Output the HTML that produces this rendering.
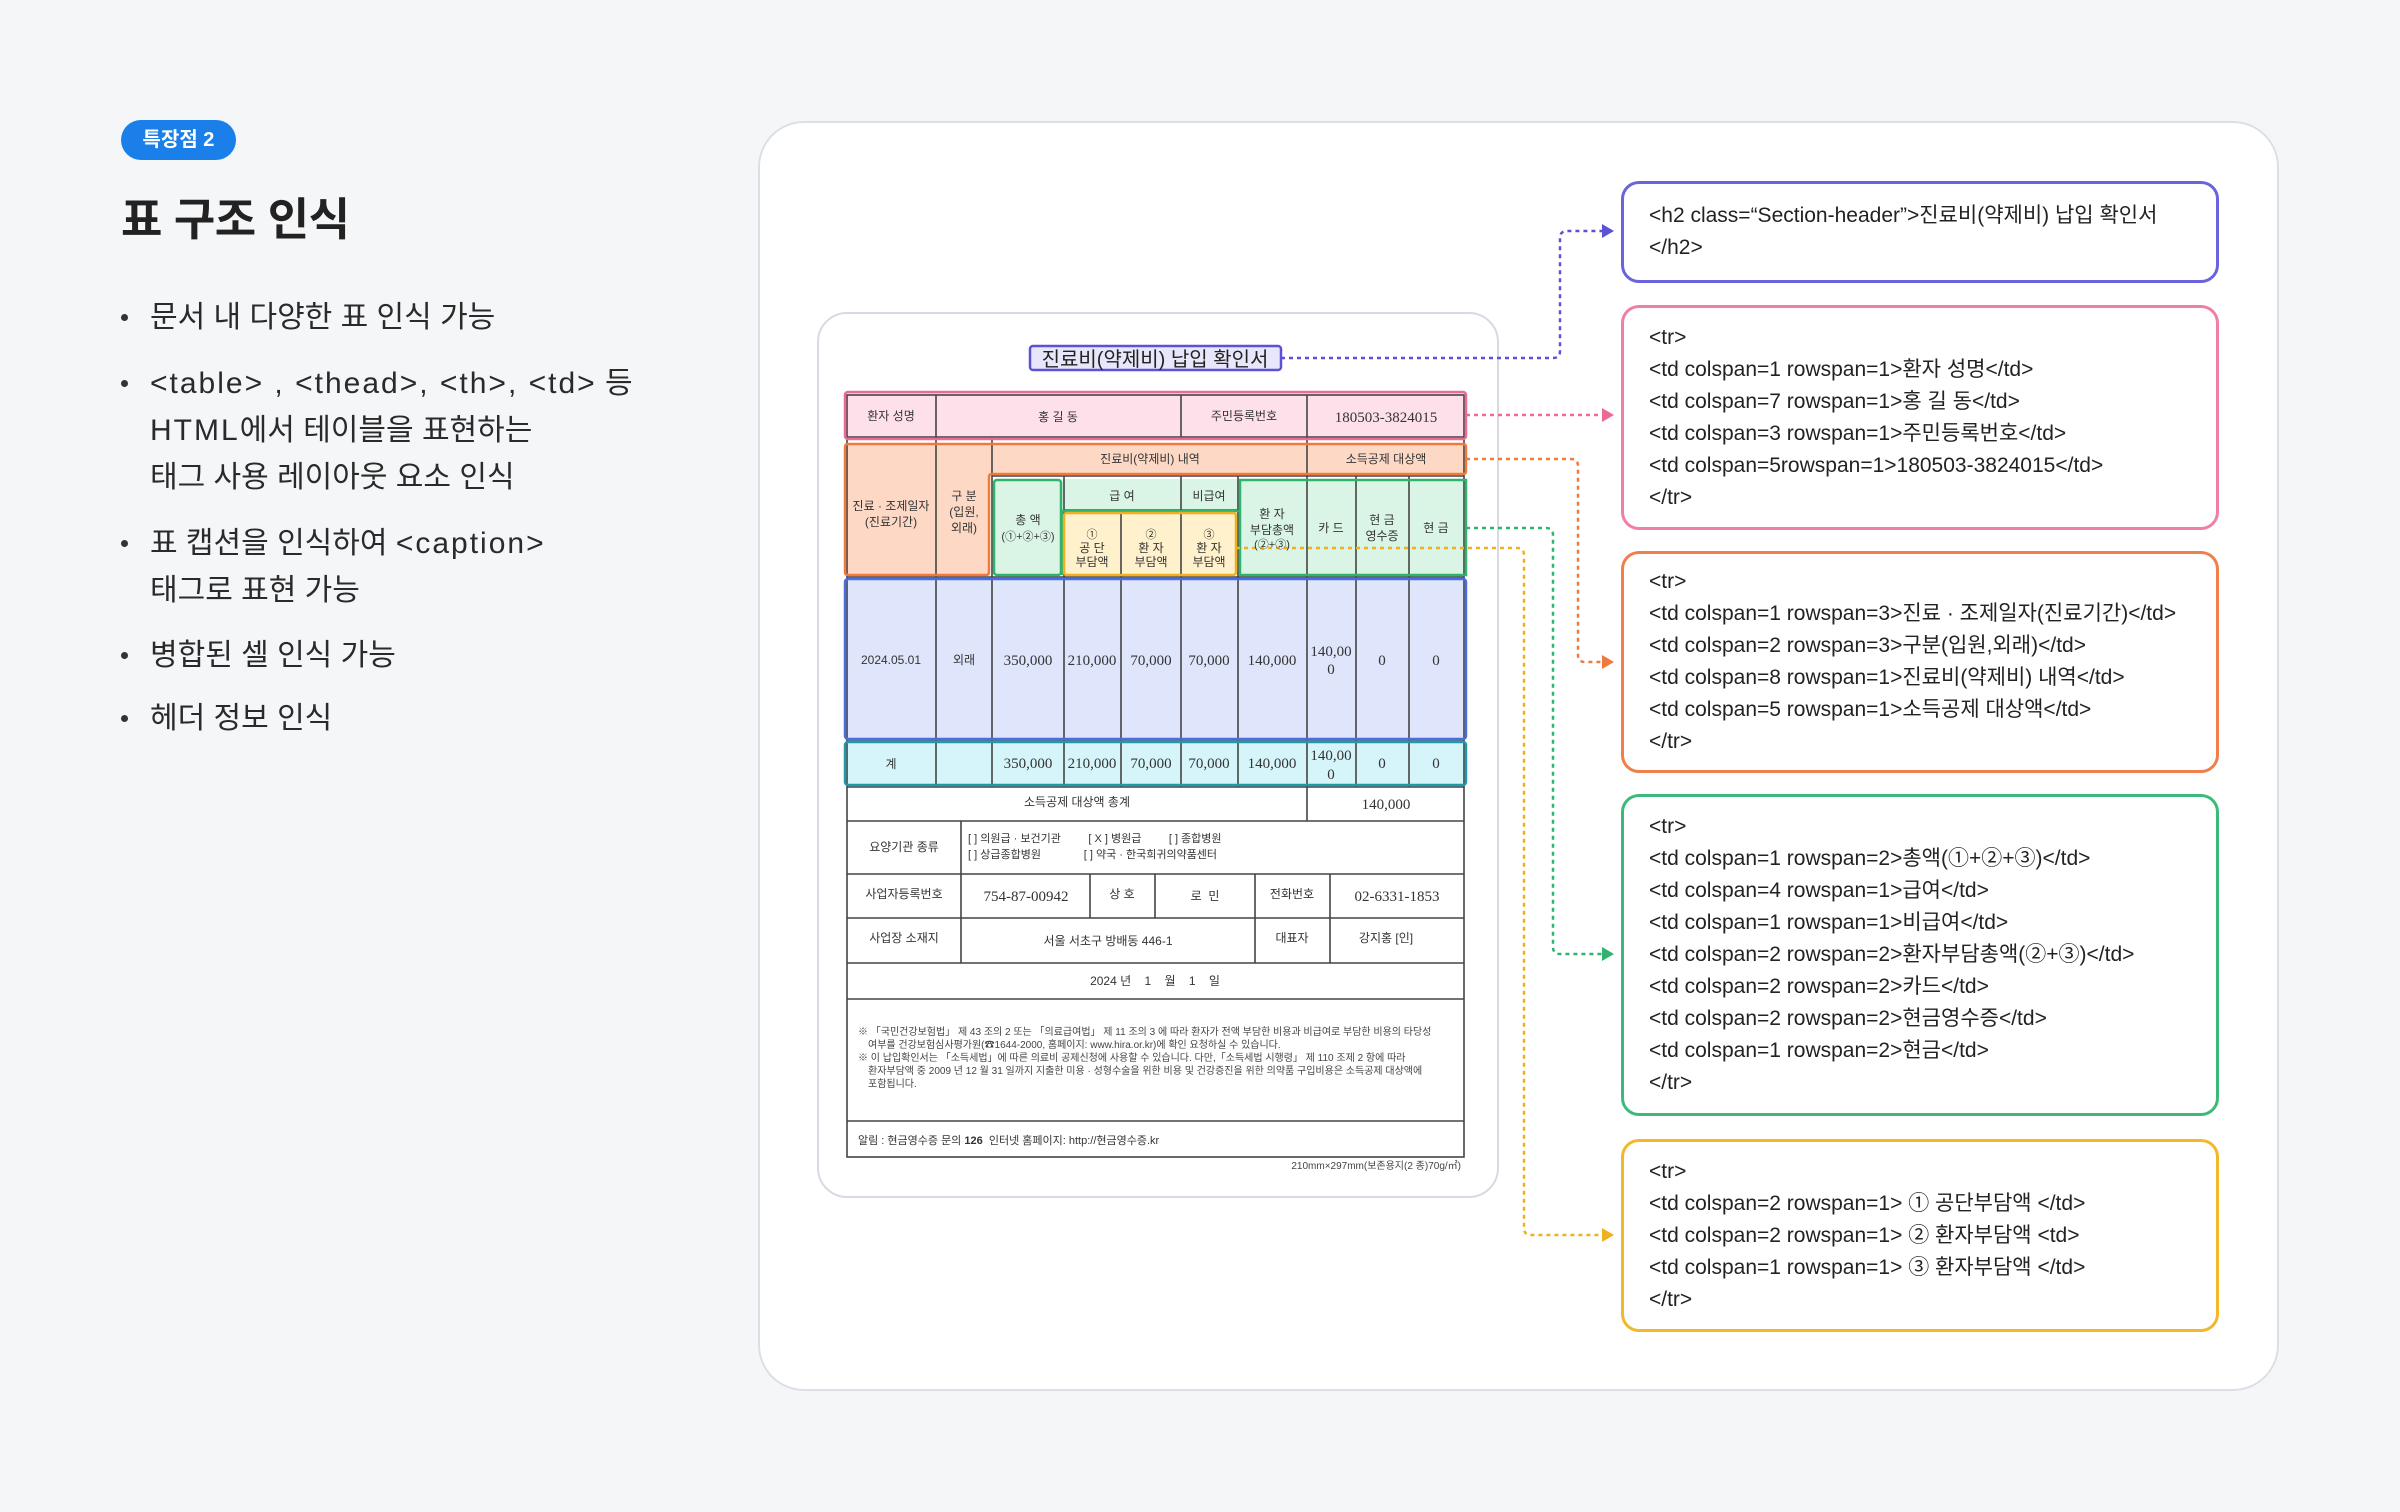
<!DOCTYPE html>
<html><head><meta charset="utf-8">
<style>
*{margin:0;padding:0;box-sizing:border-box}
body{width:2400px;height:1512px;background:#f5f6f8;position:relative;overflow:hidden;font-family:"Liberation Sans","Noto Sans CJK KR",sans-serif;color:#222}
.badge{position:absolute;left:121px;top:120px;width:115px;height:40px;border-radius:20px;background:#1a7fe8;color:#fff;font-size:20px;font-weight:bold;text-align:center;line-height:40px}
.title{position:absolute;left:121px;top:183px;font-size:45px;font-weight:bold;color:#222;letter-spacing:-0.5px}
.bl{position:absolute;left:150px;font-size:30px;color:#2a2a2a;line-height:47px;white-space:nowrap}
.ls{letter-spacing:2px}
.dot{position:absolute;left:121px;width:7px;height:7px;border-radius:50%;background:#333}
.panel{position:absolute;left:758px;top:121px;width:1521px;height:1270px;background:#fff;border:2px solid #dcdfe5;border-radius:46px}
.doc{position:absolute;left:817px;top:312px;width:682px;height:886px;background:#fff;border:2px solid #d6dae2;border-radius:30px}
.card{position:absolute;left:1621px;width:598px;background:#fff;border:3px solid;border-radius:18px;padding-left:25px;display:flex;flex-direction:column;justify-content:center;font-size:21px;line-height:32px;color:#222;white-space:nowrap}
svg text{white-space:pre}
</style></head><body>
<div class="badge">특장점 2</div>
<div class="title">표 구조 인식</div>

<div class="dot" style="top:314px"></div><div class="bl" style="top:294px">문서 내 다양한 표 인식 가능</div>
<div class="dot" style="top:380px"></div><div class="bl" style="top:360px"><span class="ls">&lt;table&gt; , &lt;thead&gt;, &lt;th&gt;, &lt;td&gt;</span> 등<br><span class="ls">HTML</span>에서 테이블을 표현하는<br>태그 사용 레이아웃 요소 인식</div>
<div class="dot" style="top:540px"></div><div class="bl" style="top:520px">표 캡션을 인식하여 <span class="ls">&lt;caption&gt;</span><br>태그로 표현 가능</div>
<div class="dot" style="top:652px"></div><div class="bl" style="top:632px">병합된 셀 인식 가능</div>
<div class="dot" style="top:715px"></div><div class="bl" style="top:695px">헤더 정보 인식</div>

<div class="panel"></div>
<div class="doc"></div>

<div class="card" style="top:181px;height:102px;border-color:#6b63de">&lt;h2 class=“Section-header”&gt;진료비(약제비) 납입 확인서<br>&lt;/h2&gt;</div>
<div class="card" style="top:305px;height:225px;border-color:#f07fa6">&lt;tr&gt;<br>&lt;td colspan=1 rowspan=1&gt;환자 성명&lt;/td&gt;<br>&lt;td colspan=7 rowspan=1&gt;홍 길 동&lt;/td&gt;<br>&lt;td colspan=3 rowspan=1&gt;주민등록번호&lt;/td&gt;<br>&lt;td colspan=5rowspan=1&gt;180503-3824015&lt;/td&gt;<br>&lt;/tr&gt;</div>
<div class="card" style="top:551px;height:222px;border-color:#f07f4a">&lt;tr&gt;<br>&lt;td colspan=1 rowspan=3&gt;진료 · 조제일자(진료기간)&lt;/td&gt;<br>&lt;td colspan=2 rowspan=3&gt;구분(입원,외래)&lt;/td&gt;<br>&lt;td colspan=8 rowspan=1&gt;진료비(약제비) 내역&lt;/td&gt;<br>&lt;td colspan=5 rowspan=1&gt;소득공제 대상액&lt;/td&gt;<br>&lt;/tr&gt;</div>
<div class="card" style="top:794px;height:322px;border-color:#3dba7a">&lt;tr&gt;<br>&lt;td colspan=1 rowspan=2&gt;총액(①+②+③)&lt;/td&gt;<br>&lt;td colspan=4 rowspan=1&gt;급여&lt;/td&gt;<br>&lt;td colspan=1 rowspan=1&gt;비급여&lt;/td&gt;<br>&lt;td colspan=2 rowspan=2&gt;환자부담총액(②+③)&lt;/td&gt;<br>&lt;td colspan=2 rowspan=2&gt;카드&lt;/td&gt;<br>&lt;td colspan=2 rowspan=2&gt;현금영수증&lt;/td&gt;<br>&lt;td colspan=1 rowspan=2&gt;현금&lt;/td&gt;<br>&lt;/tr&gt;</div>
<div class="card" style="top:1139px;height:193px;border-color:#f2b82a">&lt;tr&gt;<br>&lt;td colspan=2 rowspan=1&gt; ① 공단부담액 &lt;/td&gt;<br>&lt;td colspan=2 rowspan=1&gt; ② 환자부담액 &lt;td&gt;<br>&lt;td colspan=1 rowspan=1&gt; ③ 환자부담액 &lt;/td&gt;<br>&lt;/tr&gt;</div>

<svg style="position:absolute;left:0;top:0" width="2400" height="1512" font-family="Liberation Sans, Noto Sans CJK KR, sans-serif">
<rect x="1030" y="346" width="251" height="24" fill="#e8e6fb"/>
<rect x="845" y="393" width="621" height="46" fill="#fde0ea"/>
<rect x="845" y="444" width="621" height="30" fill="#fdd9c5"/>
<rect x="845" y="474" width="144" height="101" fill="#fdd9c5"/>
<rect x="992" y="479" width="474" height="96" fill="#daf5e6"/>
<rect x="1064" y="511" width="172" height="64" fill="#fff1cc"/>
<rect x="845" y="579" width="621" height="160" fill="#dfe6fb"/>
<rect x="845" y="742" width="621" height="43" fill="#d6f5fb"/>
<g stroke="#444" stroke-width="1.6" fill="none">
<rect x="847" y="395" width="617" height="762"/>
<line x1="847" y1="437" x2="1464" y2="437"/>
<line x1="992" y1="476" x2="1464" y2="476"/>
<line x1="1064" y1="510" x2="1238" y2="510"/>
<line x1="847" y1="577" x2="1464" y2="577"/>
<line x1="847" y1="740" x2="1464" y2="740"/>
<line x1="847" y1="787" x2="1464" y2="787"/>
<line x1="847" y1="821" x2="1464" y2="821"/>
<line x1="847" y1="874" x2="1464" y2="874"/>
<line x1="847" y1="918" x2="1464" y2="918"/>
<line x1="847" y1="963" x2="1464" y2="963"/>
<line x1="847" y1="999" x2="1464" y2="999"/>
<line x1="847" y1="1121" x2="1464" y2="1121"/>
<line x1="936" y1="395" x2="936" y2="787"/>
<line x1="1181" y1="395" x2="1181" y2="437"/>
<line x1="1307" y1="395" x2="1307" y2="821"/>
<line x1="992" y1="437" x2="992" y2="787"/>
<line x1="1064" y1="476" x2="1064" y2="787"/>
<line x1="1121" y1="510" x2="1121" y2="787"/>
<line x1="1181" y1="476" x2="1181" y2="787"/>
<line x1="1238" y1="476" x2="1238" y2="787"/>
<line x1="1356" y1="476" x2="1356" y2="787"/>
<line x1="1409" y1="476" x2="1409" y2="787"/>
<line x1="961" y1="821" x2="961" y2="963"/>
<line x1="1090" y1="874" x2="1090" y2="918"/>
<line x1="1155" y1="874" x2="1155" y2="918"/>
<line x1="1255" y1="874" x2="1255" y2="963"/>
<line x1="1330" y1="874" x2="1330" y2="963"/>
</g>
<g fill="none" stroke-width="2.5">
<rect x="1030" y="346" width="251" height="24" rx="3" stroke="#5b52d6"/>
<rect x="845" y="392" width="621" height="47" rx="3" stroke="#ee6a95"/>
<path d="M848 444 H1463 Q1466 444 1466 447 V471 Q1466 474 1463 474 H992 Q989 474 989 477 V572 Q989 575 986 575 H848 Q845 575 845 572 V447 Q845 444 848 444 Z" stroke="#f07a3e"/>
<rect x="994" y="480" width="67" height="95" rx="3" stroke="#2fb36d"/>
<path d="M1062 575 V511 H1240 V480 H1466 V575 H1240 V511" stroke="#2fb36d"/>
<rect x="1064" y="513" width="172" height="62" rx="3" stroke="#f0b020"/>
<rect x="845" y="579" width="621" height="160" rx="3" stroke="#4a6ee0"/>
<rect x="845" y="742" width="621" height="43" rx="3" stroke="#1e9aaa"/>
</g>
<g fill="none" stroke-width="2.5" stroke-dasharray="4 4">
<path d="M1281 358 H1553 Q1560 358 1560 351 V238 Q1560 231 1567 231 H1604" stroke="#5b52d6"/>
<path d="M1466 415 H1604" stroke="#ee6a95"/>
<path d="M1466 459 H1571 Q1578 459 1578 466 V655 Q1578 662 1585 662 H1604" stroke="#f07a3e"/>
<path d="M1466 528 H1546 Q1553 528 1553 535 V947 Q1553 954 1560 954 H1604" stroke="#2fb36d"/>
<path d="M1236 548 H1517 Q1524 548 1524 555 V1228 Q1524 1235 1531 1235 H1604" stroke="#f0b020"/>
</g>
<polygon points="1602,224 1614,231 1602,238" fill="#5b52d6"/>
<polygon points="1602,408 1614,415 1602,422" fill="#ee6a95"/>
<polygon points="1602,655 1614,662 1602,669" fill="#f07a3e"/>
<polygon points="1602,947 1614,954 1602,961" fill="#2fb36d"/>
<polygon points="1602,1228 1614,1235 1602,1242" fill="#f0b020"/>
<text x="1155" y="366" font-size="20" text-anchor="middle" fill="#222">진료비(약제비) 납입 확인서</text>
<g font-size="12" fill="#333" text-anchor="middle">
<text x="891" y="420">환자 성명</text>
<text x="1058" y="421">홍 길 동</text>
<text x="1244" y="420">주민등록번호</text>
<text x="1150" y="463">진료비(약제비) 내역</text>
<text x="1386" y="463">소득공제 대상액</text>
<text x="891" y="510">진료 · 조제일자</text>
<text x="891" y="526">(진료기간)</text>
<text x="964" y="500">구 분</text>
<text x="964" y="516">(입원,</text>
<text x="964" y="532">외래)</text>
<text x="1122" y="500">급 여</text>
<text x="1209" y="500">비급여</text>
<text x="1028" y="524">총 액</text>
<text x="1028" y="540" font-size="11">(①+②+③)</text>
<text x="1092" y="538" font-size="11">①</text><text x="1092" y="552">공 단</text><text x="1092" y="566">부담액</text>
<text x="1151" y="538" font-size="11">②</text><text x="1151" y="552">환 자</text><text x="1151" y="566">부담액</text>
<text x="1209" y="538" font-size="11">③</text><text x="1209" y="552">환 자</text><text x="1209" y="566">부담액</text>
<text x="1272" y="518">환 자</text><text x="1272" y="534">부담총액</text><text x="1272" y="548" font-size="11">(②+③)</text>
<text x="1331" y="532">카 드</text>
<text x="1382" y="524">현 금</text><text x="1382" y="540">영수증</text>
<text x="1436" y="532">현 금</text>
<text x="891" y="664">2024.05.01</text>
<text x="964" y="664">외래</text>
<text x="891" y="768">계</text>
<text x="1077" y="806">소득공제 대상액 총계</text>
<text x="904" y="851">요양기관 종류</text>
<text x="904" y="898">사업자등록번호</text>
<text x="1122" y="898">상 호</text>
<text x="1205" y="900">로  민</text>
<text x="1292" y="898">전화번호</text>
<text x="904" y="942">사업장 소재지</text>
<text x="1292" y="942">대표자</text>
<text x="1386" y="942">강지홍 [인]</text>
<text x="1108" y="945">서울 서초구 방배동 446-1</text>
<text x="1155" y="985">2024 년    1    월    1    일</text>
</g>
<g font-size="11" fill="#333">
<text x="968" y="842">[ ] 의원급 · 보건기관         [ X ] 병원급         [ ] 종합병원</text>
<text x="968" y="858">[ ] 상급종합병원              [ ] 약국 · 한국희귀의약품센터</text>
<text x="858" y="1144">알림 : 현금영수증 문의 <tspan font-weight="bold">126</tspan>  인터넷 홈페이지: http://현금영수증.kr</text>
</g>
<g font-size="10" fill="#444">
<text x="858" y="1035">※ 「국민건강보험법」 제 43 조의 2 또는 「의료급여법」 제 11 조의 3 에 따라 환자가 전액 부담한 비용과 비급여로 부담한 비용의 타당성</text>
<text x="868" y="1048">여부를 건강보험심사평가원(☎1644-2000, 홈페이지: www.hira.or.kr)에 확인 요청하실 수 있습니다.</text>
<text x="858" y="1061">※ 이 납입확인서는 「소득세법」에 따른 의료비 공제신청에 사용할 수 있습니다. 다만,「소득세법 시행령」 제 110 조제 2 항에 따라</text>
<text x="868" y="1074">환자부담액 중 2009 년 12 월 31 일까지 지출한 미용 · 성형수술을 위한 비용 및 건강증진을 위한 의약품 구입비용은 소득공제 대상액에</text>
<text x="868" y="1087">포함됩니다.</text>
<text x="1461" y="1169" text-anchor="end" font-size="10">210mm×297mm(보존용지(2 종)70g/㎡)</text>
</g>
<g font-family="Liberation Serif, serif" font-size="15" fill="#333" text-anchor="middle">
<text x="1386" y="422">180503-3824015</text>
<text x="1028" y="665">350,000</text><text x="1092" y="665">210,000</text><text x="1151" y="665">70,000</text><text x="1209" y="665">70,000</text><text x="1272" y="665">140,000</text>
<text x="1331" y="656">140,00</text><text x="1331" y="674">0</text><text x="1382" y="665">0</text><text x="1436" y="665">0</text>
<text x="1028" y="768">350,000</text><text x="1092" y="768">210,000</text><text x="1151" y="768">70,000</text><text x="1209" y="768">70,000</text><text x="1272" y="768">140,000</text>
<text x="1331" y="760">140,00</text><text x="1331" y="779">0</text><text x="1382" y="768">0</text><text x="1436" y="768">0</text>
<text x="1386" y="809">140,000</text>
<text x="1026" y="901">754-87-00942</text>
<text x="1397" y="901">02-6331-1853</text>
</g>
</svg>
</body></html>
